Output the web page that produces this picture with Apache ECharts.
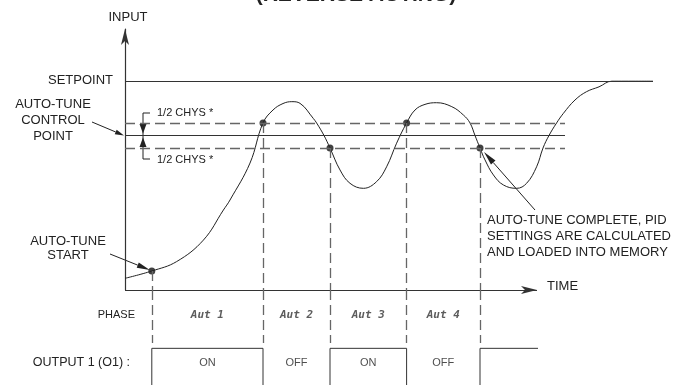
<!DOCTYPE html>
<html>
<head>
<meta charset="utf-8">
<script src="https://cdn.jsdelivr.net/npm/echarts@6/dist/echarts.min.js"></script>
<style>
  html, body { margin: 0; padding: 0; background: #fff; }
  #chart { width: 689px; height: 385px; }
</style>
</head>
<body>
<div id="chart"></div>
<script>
// Process input versus time during an auto-tune run (time units, input in % of setpoint)
const curveTime = [0, 6.7, 12.9, 19.6, 24.6, 26.25, 31.25, 34.5, 37, 39.5, 41.7, 43.75, 47.1, 47.9, 49.75,
  51.25, 53.75, 56.25, 59.6, 62.9, 65.4, 67.9, 70.4, 72.5, 75, 77.9, 81.7, 84.6, 86.25, 87.5,
  88.75, 90, 92.1, 94.6, 97.9, 100.4, 102.9, 104.5, 106, 107.9, 109.6, 112.5, 115.4, 118.5, 121.7, 132];
const curveInput = [5.6, 9.1, 13.6, 23.9, 38.3, 43.1, 60.8, 80, 86.2, 89.3, 90.2, 89.4, 82.1, 80, 74,
  68, 57.5, 51.1, 48.7, 51.9, 59, 70.3, 80, 86.2, 88.9, 89.7, 87.8, 83.8, 80, 74,
  68, 62.3, 55.1, 50.3, 48.7, 51.1, 59, 68, 74, 80, 84.6, 91, 95, 97.3, 100, 100];

const SETPOINT = 100;
const CONTROL_POINT = 74;
const HALF_CHYS = 6;
const BAND_END = 110;        // where the hysteresis band lines stop
const TIME_AXIS_END = 103;   // tip of the time arrow
const INPUT_AXIS_END = 125;  // tip of the input arrow

// Instants where the auto-tune phase switches (marked by dots on the curve)
const switchTime = [6.7, 34.5, 51.25, 70.4, 88.75];
const switchInput = [9.1, 80, 68, 80, 68];
const phaseNames = ['Aut 1', 'Aut 2', 'Aut 3', 'Aut 4'];
const outputStates = [1, 0, 1, 0, 1];          // output level after each switch
const outputLabels = ['ON', 'OFF', 'ON', 'OFF'];
const OUTPUT_END = 103.25;

const FONT = '"Liberation Sans", Arial, Helvetica, sans-serif';
const INK = '#222';
const DASH = '#666';

const curveData = curveTime.map((t, i) => [t, curveInput[i]]);
const dotData = switchTime.map((t, i) => [t, switchInput[i]]);

// Output 1 as a step trace built from the switch instants
const outputData = [];
let prev = 0;
switchTime.forEach((t, i) => {
  outputData.push([t, prev], [t, outputStates[i]]);
  prev = outputStates[i];
});
outputData.push([OUTPUT_END, prev]);

const mids = phaseNames.map((_, i) => (switchTime[i] + switchTime[i + 1]) / 2);
const PHASE_ROW = 1.8, STATE_ROW = 0.66, ROW_TOP = 2.4, ROW_MIN = 0.12, PHASE_DASH_END = 1.13;

const solid = { color: '#333', width: 1, type: 'solid' };
const dashed = { color: DASH, width: 1.3, type: [10, 5] };

const upperMarks = [
  // time axis with arrow
  [{ coord: [0, 0], symbol: 'none' },
   { coord: [TIME_AXIS_END, 0], symbol: 'arrow', symbolSize: [6, 16], lineStyle: { color: '#333', width: 1.2, type: 'solid' } }],
  [{ coord: [0, SETPOINT], lineStyle: solid }, { coord: [curveTime[curveTime.length - 1], SETPOINT] }],
  [{ coord: [0, CONTROL_POINT], lineStyle: solid }, { coord: [BAND_END, CONTROL_POINT] }],
  [{ coord: [0, CONTROL_POINT + HALF_CHYS], lineStyle: dashed }, { coord: [BAND_END, CONTROL_POINT + HALF_CHYS] }],
  [{ coord: [0, CONTROL_POINT - HALF_CHYS], lineStyle: dashed }, { coord: [BAND_END, CONTROL_POINT - HALF_CHYS] }]
].concat(switchTime.map((t, i) => [{ coord: [t, switchInput[i]], lineStyle: dashed }, { coord: [t, 0] }]));

const lowerMarks = switchTime.map(t => [{ coord: [t, ROW_TOP], lineStyle: dashed }, { coord: [t, PHASE_DASH_END] }]);

const chart = echarts.init(document.getElementById('chart'), null, { renderer: 'canvas' });

const hiddenAxis = { show: false };
chart.setOption({
  animation: false,
  backgroundColor: '#fff',
  grid: [
    { left: 125, top: 29, width: 528, height: 261 },
    { left: 125, top: 290, width: 528, bottom: 0 }
  ],
  xAxis: [
    { type: 'value', gridIndex: 0, min: 0, max: 132, show: false },
    { type: 'value', gridIndex: 1, min: 0, max: 132, show: false }
  ],
  yAxis: [
    {
      type: 'value', gridIndex: 0, min: 0, max: INPUT_AXIS_END,
      axisLine: { show: true, onZero: false, symbol: ['none', 'arrow'], symbolSize: [6, 16], lineStyle: { color: '#333', width: 1.2 } },
      axisTick: hiddenAxis, axisLabel: hiddenAxis, splitLine: hiddenAxis
    },
    { type: 'value', gridIndex: 1, min: ROW_MIN, max: ROW_TOP, show: false }
  ],
  series: [
    {
      name: 'Input', type: 'line', xAxisIndex: 0, yAxisIndex: 0,
      data: curveData, smooth: 0.4, showSymbol: false, silent: true, clip: false,
      lineStyle: { color: INK, width: 1 },
      markLine: {
        silent: true, symbol: ['none', 'none'], label: { show: false },
        lineStyle: solid, emphasis: { disabled: true }, animation: false,
        data: upperMarks
      }
    },
    {
      name: 'Switch points', type: 'scatter', xAxisIndex: 0, yAxisIndex: 0,
      data: dotData, symbolSize: 7, silent: true, itemStyle: { color: '#111' }
    },
    {
      name: 'Output 1', type: 'line', xAxisIndex: 1, yAxisIndex: 1,
      data: outputData, showSymbol: false, silent: true, clip: false,
      lineStyle: { color: '#333', width: 1 },
      markLine: {
        silent: true, symbol: ['none', 'none'], label: { show: false },
        lineStyle: dashed, emphasis: { disabled: true }, animation: false,
        data: lowerMarks
      }
    },
    {
      name: 'Phase', type: 'scatter', xAxisIndex: 1, yAxisIndex: 1, silent: true,
      symbolSize: 0,
      data: mids.map((m, i) => ({ value: [m, PHASE_ROW], name: phaseNames[i] })),
      label: {
        show: true, position: 'inside', formatter: p => p.name,
        fontFamily: '"DejaVu Sans Mono", monospace', fontStyle: 'italic', fontWeight: 'bold', fontSize: 11, color: '#333'
      }
    },
    {
      name: 'State', type: 'scatter', xAxisIndex: 1, yAxisIndex: 1, silent: true,
      symbolSize: 0,
      data: mids.map((m, i) => ({ value: [m, STATE_ROW], name: outputLabels[i] })),
      label: {
        show: true, position: 'inside', formatter: p => p.name,
        fontFamily: FONT, fontSize: 11, color: INK
      }
    }
  ]
});

// Annotations (labels, leaders and the hysteresis brackets)
const px = (t, v) => chart.convertToPixel({ gridIndex: 0 }, [t, v]);

function text(x, y, str, opt) {
  opt = opt || {};
  return {
    type: 'text', x: x, y: y, silent: true,
    style: {
      text: str, fill: opt.fill || INK,
      font: (opt.weight || 'normal') + ' ' + (opt.size || 13) + 'px ' + FONT,
      align: opt.align || 'left', verticalAlign: opt.valign || 'middle'
    }
  };
}

function arrow(p0, p1, len, halfW) {
  const dx = p1[0] - p0[0], dy = p1[1] - p0[1];
  const d = Math.hypot(dx, dy), ux = dx / d, uy = dy / d;
  const bx = p1[0] - ux * len, by = p1[1] - uy * len;
  return [
    { type: 'line', silent: true, shape: { x1: p0[0], y1: p0[1], x2: bx, y2: by }, style: { stroke: INK, lineWidth: 1 } },
    { type: 'polygon', silent: true, shape: { points: [[p1[0], p1[1]], [bx - uy * halfW, by + ux * halfW], [bx + uy * halfW, by - ux * halfW]] }, style: { fill: INK } }
  ];
}

const axisX = px(0, 0)[0];
const ySet = px(0, SETPOINT)[1];
const yCtl = px(0, CONTROL_POINT)[1];
const yHi = px(0, CONTROL_POINT + HALF_CHYS)[1];
const yLo = px(0, CONTROL_POINT - HALF_CHYS)[1];
const startDot = px(switchTime[0], switchInput[0]);
const endDot = px(switchTime[4], switchInput[4]);
const timeTip = px(TIME_AXIS_END, 0);
const bx = px(4.5, 0)[0];

const graphics = [
  text(356, 6, '(REVERSE ACTING)', { size: 21, weight: 'bold', align: 'center', valign: 'bottom' }),
  text(128, 17, 'INPUT', { align: 'center' }),
  text(113, ySet - 1, 'SETPOINT', { align: 'right' }),
  text(53, 104, 'AUTO-TUNE', { align: 'center' }),
  text(53, 120.5, 'CONTROL', { align: 'center' }),
  text(53, 136.5, 'POINT', { align: 'center' }),
  text(68, 241, 'AUTO-TUNE', { align: 'center' }),
  text(68, 255, 'START', { align: 'center' }),
  text(timeTip[0] + 10, timeTip[1] - 4, 'TIME'),
  text(487, 220, 'AUTO-TUNE COMPLETE, PID'),
  text(487, 236, 'SETTINGS ARE CALCULATED'),
  text(487, 252, 'AND LOADED INTO MEMORY'),
  text(135, 315, 'PHASE', { align: 'right', size: 11 }),
  text(130, 363, 'OUTPUT 1 (O1) :', { align: 'right', size: 12.5 }),
  // hysteresis brackets
  { type: 'polyline', silent: true, shape: { points: [[150, 113], [bx, 113], [bx, yHi]] }, style: { stroke: INK, lineWidth: 1, fill: null } },
  { type: 'polyline', silent: true, shape: { points: [[bx, yLo], [bx, 159], [150, 159]] }, style: { stroke: INK, lineWidth: 1, fill: null } },
  { type: 'line', silent: true, shape: { x1: bx, y1: yHi, x2: bx, y2: yLo }, style: { stroke: INK, lineWidth: 1 } },
  { type: 'polygon', silent: true, shape: { points: [[bx - 3.5, yHi + 1], [bx + 3.5, yHi + 1], [bx, yCtl - 2]] }, style: { fill: INK } },
  { type: 'polygon', silent: true, shape: { points: [[bx - 3.5, yLo - 1], [bx + 3.5, yLo - 1], [bx, yCtl + 2]] }, style: { fill: INK } },
  text(157, 113, '1/2 CHYS *', { size: 11 }),
  text(157, 160, '1/2 CHYS *', { size: 11 })
]
  .concat(arrow([92, 122], [axisX - 1, yCtl], 9, 2.5))
  .concat(arrow([110, 254], [startDot[0] - 2, startDot[1] - 1], 13, 2.8))
  .concat(arrow([535, 210], [endDot[0] + 4, endDot[1] + 4], 14, 3));

chart.setOption({ graphic: { elements: graphics } });
</script>
</body>
</html>
